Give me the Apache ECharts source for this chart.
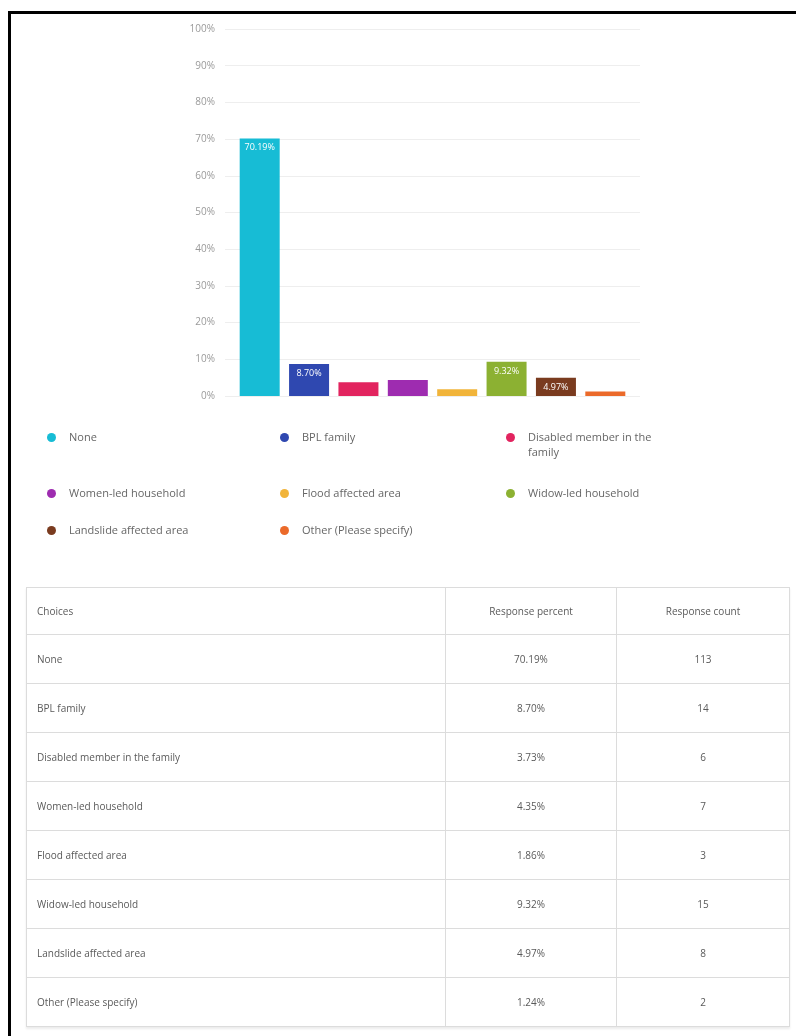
<!DOCTYPE html>
<html>
<head>
<meta charset="utf-8">
<script src="https://cdn.jsdelivr.net/npm/echarts@6/dist/echarts.min.js"></script>
<style>
  html, body { margin: 0; padding: 0; background: #fff; }
  body { width: 796px; height: 1036px; position: relative; overflow: hidden; font-family: "Open Sans", "Noto Sans", sans-serif; }
  #frame { position: absolute; left: 8px; top: 11px; width: 800px; height: 1040px; border-left: 3px solid #000; border-top: 3px solid #000; }
  #chart { position: absolute; left: 0; top: 0; width: 796px; height: 1036px; }
  #tbl { position: absolute; left: 26px; top: 587px; width: 763px; border-collapse: collapse; font-size: 10px; color: #5a5a5a; table-layout: fixed; box-shadow: 0 2px 2px rgba(0,0,0,0.08); }
  #tbl td, #tbl th { border: 1px solid #dcdcdc; font-weight: normal; padding: 0 10px; }
  #tbl th { height: 46px; }
  #tbl td { height: 48px; }
  #tbl .c { text-align: center; }
  #tbl .l { text-align: left; }
</style>
</head>
<body>
<div id="frame"></div>
<div id="chart"></div>
<table id="tbl"></table>
<script>
// Survey choices and their shares of respondents
const categories = [
  'None',
  'BPL family',
  'Disabled member in the family',
  'Women-led household',
  'Flood affected area',
  'Widow-led household',
  'Landslide affected area',
  'Other (Please specify)'
];
const percents = [70.19, 8.70, 3.73, 4.35, 1.86, 9.32, 4.97, 1.24];
const counts = [113, 14, 6, 7, 3, 15, 8, 2];
const colors = ['#17bcd5', '#2f48b0', '#e2245f', '#9e2cb0', '#f1b43a', '#8cb132', '#7a3b1f', '#eb6a2a'];
const yTicks = [0, 10, 20, 30, 40, 50, 60, 70, 80, 90, 100];
const tableHeader = ['Choices', 'Response percent', 'Response count'];

// Labels are only printed on bars tall enough to hold them
const LABEL_MIN = 4.5;
// Legend names longer than this wrap onto a second line
const LEGEND_WRAP = 24;
const LEGEND_LINE = 15;

function wrapLines(name) {
  if (name.length <= LEGEND_WRAP) return [name];
  const out = [];
  let line = '';
  name.split(' ').forEach(w => {
    if ((line + ' ' + w).trim().length > 22) { out.push(line.trim()); line = w; }
    else line = (line + ' ' + w).trim();
  });
  out.push(line);
  return out;
}

// The legend marker sits on the middle of the text block, so a wrapped
// name gets a blank line above it to keep the marker on its first line.
function legendText(name) {
  const lines = wrapLines(name);
  if (lines.length === 1) return name;
  return '\u00a0\n' + lines.join('\n');
}

const series = categories.map((name, i) => ({
  name: name,
  type: 'bar',
  xAxisIndex: 1,
  yAxisIndex: 1,
  stack: 'all',
  barWidth: 40,
  itemStyle: { color: colors[i] },
  data: categories.map((_, j) => (j === i ? percents[i] : null)),
  label: {
    show: percents[i] > LABEL_MIN,
    position: 'insideTop',
    distance: 5,
    color: '#fff',
    fontSize: 9,
    fontFamily: 'Open Sans',
    formatter: p => p.value.toFixed(2) + '%'
  }
}));

// Legend laid out as a three-column block beneath the plot
const legendCols = [42, 275, 501];
const legendRows = [425, 481, 518];
const legends = categories.map((name, i) => {
  const extra = wrapLines(name).length - 1;
  return {
    data: [name],
    left: legendCols[i % 3],
    top: legendRows[Math.floor(i / 3)] - extra * LEGEND_LINE,
    icon: 'circle',
    itemWidth: 9,
    itemHeight: 9,
    selectedMode: false,
    formatter: legendText,
    textStyle: {
      color: '#666',
      fontSize: 11,
      fontFamily: 'Open Sans',
      lineHeight: LEGEND_LINE,
      padding: [0, 0, 0, 8]
    }
  };
});

const chart = echarts.init(document.getElementById('chart'), null, { renderer: 'canvas' });
chart.setOption({
  animation: false,
  grid: [
    { left: 225, right: 156, top: 29, bottom: 640 },
    { left: 235, right: 166, top: 29, bottom: 640 }
  ],
  xAxis: [
    { type: 'category', gridIndex: 0, data: categories, show: false },
    { type: 'category', gridIndex: 1, data: categories, show: false }
  ],
  yAxis: [
    {
      type: 'value', gridIndex: 0, min: yTicks[0], max: yTicks[yTicks.length - 1], interval: 10,
      axisLine: { show: false }, axisTick: { show: false },
      splitLine: { lineStyle: { color: '#eeeeee', width: 1 } },
      axisLabel: { formatter: '{value}%', color: '#9a9a9a', fontSize: 10, fontFamily: 'Open Sans', margin: 10 }
    },
    {
      type: 'value', gridIndex: 1, min: yTicks[0], max: yTicks[yTicks.length - 1], interval: 10,
      show: false, splitLine: { show: false }
    }
  ],
  legend: legends,
  series: series
});

// Response table
const tbl = document.getElementById('tbl');
const colgroup = document.createElement('colgroup');
[419, 171, 173].forEach(w => { const c = document.createElement('col'); c.style.width = w + 'px'; colgroup.appendChild(c); });
tbl.appendChild(colgroup);
const hr = document.createElement('tr');
tableHeader.forEach((h, k) => {
  const th = document.createElement('th');
  th.textContent = h;
  th.className = k === 0 ? 'l' : 'c';
  hr.appendChild(th);
});
tbl.appendChild(hr);
categories.forEach((name, i) => {
  const tr = document.createElement('tr');
  [name, percents[i].toFixed(2) + '%', String(counts[i])].forEach((v, k) => {
    const td = document.createElement('td');
    td.textContent = v;
    td.className = k === 0 ? 'l' : 'c';
    tr.appendChild(td);
  });
  tbl.appendChild(tr);
});
</script>
</body>
</html>
